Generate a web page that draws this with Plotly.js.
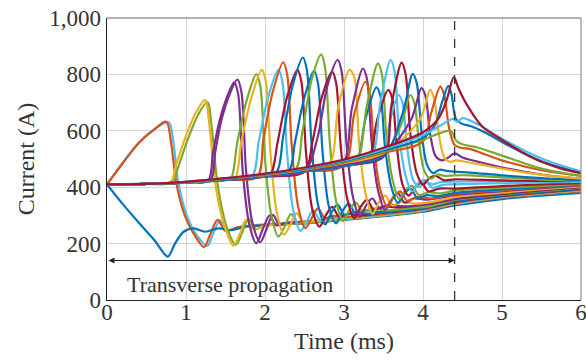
<!DOCTYPE html>
<html><head><meta charset="utf-8">
<script src="https://cdn.plot.ly/plotly-3.0.1.min.js"></script>
<style>html,body{margin:0;padding:0;background:#fff;}#chart{width:586px;height:363px;}</style>
</head><body><div id="chart"></div>
<script>
const B='#0072BD',O='#D95319',Y='#EDB120',P='#7E2F8E',G='#77AC30',C='#4DBEEE',R='#A2142F';

const t01=[0,0.2,0.4,0.6,0.78,0.84,0.9,1.01,1.14,1.27,1.35,1.43,1.53,1.7,2.0,2.5,3,3.5,4,4.4,5,5.5,6];
const i01=[410,488,558,606,630,560,420,300,228,192,240,282,248,260,268,276,288,301,318,340,362,374,385];
const t02=[0,0.2,0.4,0.6,0.75,0.81,0.88,0.99,1.12,1.23,1.31,1.4,1.5,1.65,1.9,2.3,2.7,3,3.5,4,4.4,5,5.5,6];
const i02=[410,485,556,605,632,560,410,296,225,188,235,284,245,258,264,270,278,286,299,316,338,361,373,384];
const t03=[0,0.2,0.4,0.6,0.77,0.86,0.97,1.1,1.24,1.41,1.57,1.75,2.0,2.5,3,3.5,4,4.4,5,5.5,6];
const i03=[410,340,275,212,154,200,242,254,242,254,248,260,265,272,284,297,313,335,358,370,380];
const t05=[0,0.5,0.83,0.9,1.01,1.15,1.27,1.33,1.4,1.52,1.63,1.71,1.79,1.89,2.0,2.2,2.6,3,3.5,4,4.4,5,5.5,6];
const i05=[410,412,417,470,560,655,702,600,410,255,196,238,288,252,264,270,277,288,301,318,341,364,376,387];
const t04=[0,0.5,0.8,0.87,0.98,1.12,1.24,1.3,1.37,1.49,1.6,1.68,1.76,1.86,1.98,2.2,2.6,3,3.5,4,4.4,5,5.5,6];
const i04=[410,412,416,475,567,662,709,610,414,260,193,232,284,250,262,268,276,287,300,317,340,363,375,386];
const t06=[0,0.5,1,1.28,1.34,1.42,1.52,1.61,1.66,1.72,1.8,1.89,1.97,2.06,2.14,2.24,2.4,2.7,3,3.5,4,4.4,5,5.5,6];
const i06=[410,412,416,424,520,630,720,772,730,450,270,201,250,300,265,272,275,281,289,302,318,340,363,376,387];
const t07=[0,0.5,1,1.31,1.37,1.45,1.56,1.65,1.7,1.76,1.84,1.94,2.02,2.1,2.18,2.28,2.45,2.75,3,3.5,4,4.4,5,5.5,6];
const i07=[410,412,417,426,525,640,735,782,740,460,275,205,252,302,268,274,277,283,290,303,319,341,364,377,388];
const t08=[0,0.5,1,1.5,1.57,1.65,1.77,1.89,1.94,2.0,2.08,2.17,2.25,2.33,2.42,2.52,2.7,3,3.5,4,4.4,5,5.5,6];
const i08=[410,412,416,426,432,560,710,801,760,500,300,225,262,305,272,276,280,288,301,318,341,364,377,388];
const t09=[0,0.5,1,1.5,1.62,1.7,1.83,1.96,2.01,2.07,2.15,2.24,2.32,2.4,2.49,2.59,2.8,3.1,3.5,4,4.4,5,5.5,6];
const i09=[410,412,417,425,432,560,720,816,775,520,310,232,266,308,275,279,283,291,302,319,342,365,378,389];
const t10=[0,0.5,1,1.5,1.83,1.92,2.04,2.17,2.22,2.28,2.36,2.45,2.53,2.61,2.7,2.8,3.0,3.3,3.6,4,4.4,5,5.5,6];
const i10=[410,412,416,426,436,560,720,816,775,520,315,245,280,318,283,292,292,297,305,320,343,366,379,390];
const t11=[0,0.5,1,1.5,1.9,1.98,2.1,2.23,2.28,2.34,2.42,2.51,2.59,2.67,2.76,2.86,3.05,3.3,3.6,4,4.4,5,5.5,6];
const i11=[410,412,417,427,437,570,740,843,800,540,330,255,290,325,290,298,295,300,308,322,345,367,380,391];
const t12=[0,0.5,1,1.5,2,2.08,2.16,2.28,2.41,2.46,2.52,2.6,2.69,2.77,2.85,2.94,3.04,3.2,3.5,4,4.4,5,5.5,6];
const i12=[410,412,417,426,438,450,560,720,816,775,520,320,260,300,330,295,305,300,310,324,347,369,382,393];
const t13=[0,0.5,1,1.5,2,2.15,2.23,2.35,2.48,2.53,2.59,2.67,2.76,2.84,2.92,3.01,3.12,3.3,3.6,4,4.4,5,5.5,6];
const i13=[410,412,417,426,440,455,580,760,860,815,550,340,268,310,338,300,312,306,313,326,349,370,383,394];
const t14=[0,0.5,1,1.5,2,2.3,2.38,2.5,2.62,2.67,2.73,2.81,2.9,2.98,3.06,3.15,3.26,3.45,3.7,4,4.4,5,5.5,6];
const i14=[410,412,417,426,438,458,560,720,813,770,520,330,272,315,342,305,318,312,318,329,352,372,385,396];
const t15=[0,0.5,1,1.5,2,2.38,2.47,2.59,2.71,2.76,2.82,2.9,2.99,3.07,3.15,3.24,3.35,3.5,3.8,4.1,4.4,5,5.5,6];
const i15=[410,412,417,427,440,460,590,780,871,825,560,350,280,320,345,312,325,318,324,333,355,374,387,398];
const t16=[0,0.5,1,1.5,2,2.5,2.6,2.72,2.85,2.9,2.96,3.04,3.13,3.21,3.29,3.38,3.5,3.7,4,4.4,5,5.5,6];
const i16=[410,412,417,427,438,455,560,720,810,770,540,360,290,330,355,320,332,328,338,358,376,389,400];
const t17=[0,0.5,1,1.5,2,2.5,2.66,2.79,2.92,2.97,3.03,3.11,3.2,3.28,3.36,3.45,3.57,3.75,4.1,4.4,5,5.5,6];
const i17=[410,412,417,427,440,458,570,760,852,810,560,370,295,335,360,325,338,332,342,361,378,391,401];
const t18=[0,0.5,1,1.5,2,2.5,2.8,2.93,3.07,3.13,3.19,3.27,3.36,3.44,3.52,3.61,3.73,3.9,4.15,4.4,5,5.5,6];
const i18=[410,412,417,428,441,460,470,690,816,790,560,380,305,345,370,335,348,342,350,365,381,393,403];
const t19=[0,0.5,1,1.5,2,2.5,2.97,3.1,3.24,3.29,3.35,3.43,3.52,3.6,3.68,3.77,3.88,4.05,4.4,5,5.5,6];
const i19=[410,412,417,427,440,457,475,680,821,785,560,390,320,355,380,345,360,356,372,386,397,406];
const t20=[0,0.5,1,1.5,2,2.5,3.0,3.13,3.27,3.32,3.38,3.46,3.55,3.63,3.71,3.8,3.92,4.1,4.4,5,5.5,6];
const i20=[410,412,417,428,441,459,478,660,774,740,540,390,330,365,385,352,365,360,376,389,399,407];
const t21=[0,0.5,1,1.5,2,2.5,3,3.15,3.27,3.41,3.46,3.52,3.6,3.68,3.76,3.84,3.93,4.05,4.2,4.4,5,5.5,6];
const i21=[410,412,417,427,440,456,474,485,640,754,725,540,400,345,375,395,362,372,368,380,392,401,409];
const t22=[0,0.5,1,1.5,2,2.5,3,3.16,3.29,3.43,3.48,3.54,3.62,3.7,3.78,3.86,3.95,4.07,4.22,4.4,5,5.5,6];
const i22=[410,412,417,428,442,460,478,490,690,839,800,570,420,358,390,405,372,382,378,388,398,405,411];
const t23=[0,0.5,1,1.5,2,2.5,3,3.3,3.42,3.56,3.61,3.67,3.74,3.82,3.9,3.98,4.07,4.2,4.4,5,5.5,6];
const i23=[410,412,417,428,441,458,476,495,640,745,715,540,410,370,400,415,385,395,395,404,410,414];
const t24=[0,0.5,1,1.5,2,2.5,3,3.33,3.46,3.59,3.64,3.7,3.78,3.86,3.94,4.02,4.12,4.25,4.4,5,5.5,6];
const i24=[410,412,417,427,440,457,477,497,700,851,810,580,440,385,415,425,398,408,410,414,417,419];
const t25=[0,0.5,1,1.5,2,2.5,3,3.5,3.57,3.69,3.74,3.8,3.87,3.95,4.03,4.12,4.22,4.4,5,5.5,6];
const i25=[410,412,417,428,442,460,480,510,620,727,700,540,430,400,420,410,418,420,420,420,421];
const t26=[0,0.5,1,1.5,2,2.5,3,3.5,3.6,3.73,3.78,3.84,3.92,4.0,4.08,4.16,4.26,4.4,5,5.5,6];
const i26=[410,412,417,428,441,458,478,508,690,842,800,590,450,410,432,440,425,428,424,422,422];
const t27=[0,0.5,1,1.5,2,2.5,3,3.5,3.72,3.84,3.89,3.95,4.02,4.1,4.18,4.27,4.4,4.6,5,5.5,6];
const i27=[410,412,417,429,443,461,482,515,620,727,700,560,455,430,445,440,442,442,435,427,422];
const t28=[0,0.5,1,1.5,2,2.5,3,3.5,3.74,3.87,3.92,3.98,4.05,4.13,4.21,4.3,4.4,4.6,5,5.5,6];
const i28=[410,412,417,427,440,457,478,510,660,802,770,600,480,450,462,458,455,452,442,432,425];
const t29=[0,0.5,1,1.5,2,2.5,3,3.5,3.85,3.98,4.03,4.09,4.16,4.24,4.32,4.4,4.5,4.7,5,5.5,6];
const i29=[410,412,417,429,442,460,482,516,640,751,725,590,510,495,505,520,505,490,470,445,430];
const t30=[0,0.5,1,1.5,2,2.5,3,3.5,3.96,4.09,4.14,4.2,4.27,4.35,4.42,4.5,4.7,5,5.5,6];
const i30=[410,412,418,430,443,462,485,520,640,745,715,590,505,490,495,492,482,466,444,431];
const t31=[0,0.5,1,1.5,2,2.5,3,3.5,4,4.1,4.22,4.27,4.33,4.4,4.48,4.6,4.8,5,5.5,6];
const i31=[410,412,418,430,444,463,487,522,562,660,757,725,610,550,540,535,515,495,460,440];
const t32=[0,0.5,1,1.5,2,2.5,3,3.5,4,4.2,4.35,4.42,4.5,4.7,5,5.5,6];
const i32=[410,412,418,430,445,465,490,526,568,590,600,565,552,540,512,466,440];
const t33=[0,0.5,1,1.5,2,2.5,3,3.5,4,4.15,4.24,4.32,4.36,4.42,4.5,4.6,4.8,5,5.5,6];
const i33=[410,412,419,431,446,466,492,530,575,620,700,759,730,640,624,617,592,560,492,452];
const t34=[0,0.5,1,1.5,2,2.5,3,3.5,4,4.2,4.38,4.43,4.5,4.7,5,5.5,6];
const i34=[410,412,419,431,447,468,495,535,585,615,642,632,645,622,572,502,456];
const t35=[0,0.5,1,1.5,2,2.5,3,3.5,4,4.2,4.3,4.39,4.45,4.55,4.75,5,5.25,5.5,5.75,6];
const i35=[410,412,419,432,448,470,498,540,595,645,710,790,750,695,615,568,525,490,466,450];

const seriesTimes=[t01,t02,t03,t05,t04,t06,t07,t08,t09,t10,t11,t12,t13,t14,t15,t16,t17,t18,t19,t20,t21,t22,t23,t24,t25,t26,t27,t28,t29,t30,t31,t32,t33,t34,t35];
const seriesCurrents=[i01,i02,i03,i05,i04,i06,i07,i08,i09,i10,i11,i12,i13,i14,i15,i16,i17,i18,i19,i20,i21,i22,i23,i24,i25,i26,i27,i28,i29,i30,i31,i32,i33,i34,i35];
const seriesColors=[C,O,B,G,Y,P,P,G,Y,C,O,R,B,B,G,R,P,Y,P,O,B,G,R,C,C,R,G,B,P,Y,O,G,B,C,R];

const xTicks=[0,1,2,3,4,5,6];
const yTicks=[0,200,400,600,800,1000];
const xLabel='Time (ms)';
const yLabel='Current (A)';
const spanText='Transverse propagation';
const spanEnd=4.4;
const spanLevel=140;

const traces=seriesTimes.map((t,k)=>({
  x:t, y:seriesCurrents[k], type:'scatter', mode:'lines',
  line:{color:seriesColors[k], width:2.2, shape:'spline', smoothing:0.9},
  hoverinfo:'skip', showlegend:false
}));

const font='Liberation Serif';
const layout={
  width:586, height:363,
  margin:{l:107, r:5, t:18, b:63},
  paper_bgcolor:'#fff', plot_bgcolor:'#fff',
  font:{family:font, color:'#333'},
  xaxis:{range:[0,6], tickvals:xTicks, ticktext:xTicks.map(String), showgrid:true, gridcolor:'#d4d4d4', gridwidth:1,
    zeroline:false, showline:true, linecolor:'#222', linewidth:1.3, ticks:'', ticklen:0, ticklabelstandoff:-9,
    ticklabeloverflow:'allow', tickfont:{size:23, family:font, color:'#333'},
    title:{text:xLabel, font:{size:24, family:font, color:'#333'}, standoff:8}},
  yaxis:{range:[0,1000], tickvals:yTicks, ticktext:yTicks.map(v=>v.toLocaleString('en-US')), showgrid:true, gridcolor:'#d4d4d4', gridwidth:1,
    zeroline:false, showline:true, linecolor:'#222', linewidth:1.3, ticks:'', ticklen:0, ticklabelstandoff:0,
    ticklabeloverflow:'allow', tickfont:{size:23, family:font, color:'#333'},
    title:{text:yLabel, font:{size:24, family:font, color:'#333'}, standoff:8}},
  shapes:[
    {type:'line', xref:'paper', yref:'paper', x0:0, x1:1, y0:1, y1:1, line:{color:'#999', width:1.3}},
    {type:'line', xref:'paper', yref:'paper', x0:1, x1:1, y0:0, y1:1, line:{color:'#999', width:1.3}},
    {type:'line', xref:'x', yref:'paper', x0:spanEnd, x1:spanEnd, y0:0, y1:1, line:{color:'#333', width:1.3, dash:'dash'}}
  ],
  annotations:[
    {x:spanEnd, y:spanLevel, ax:0, ay:spanLevel, xref:'x', yref:'y', axref:'x', ayref:'y', text:'', showarrow:true,
     arrowhead:2, startarrowhead:2, arrowside:'end+start', arrowsize:1.2, startarrowsize:1.2, arrowwidth:1, arrowcolor:'#222'},
    {x:1.56, y:55, xref:'x', yref:'y', text:spanText, showarrow:false, font:{size:22, family:font, color:'#333'}}
  ]
};
Plotly.newPlot('chart', traces, layout, {staticPlot:true, displayModeBar:false});
</script>
</body></html>
